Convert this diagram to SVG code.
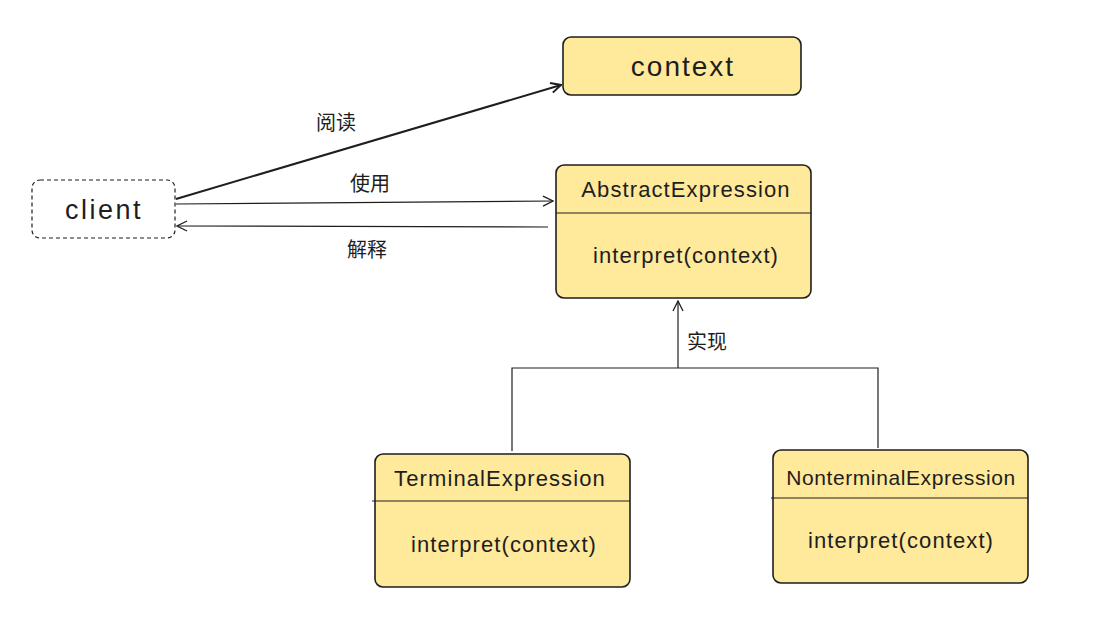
<svg xmlns="http://www.w3.org/2000/svg" width="1095" height="621" viewBox="0 0 1095 621">
<defs>
<style>
.box{fill:#ffe99b;stroke:#1e1e1e;stroke-width:1.6}
.dash{fill:#ffffff;stroke:#1e1e1e;stroke-width:1.2;stroke-dasharray:4 3}
.div{stroke:#1e1e1e;stroke-width:1.2}
.t{font-family:"Liberation Sans",Arial,sans-serif;fill:#1e1e1e;text-anchor:middle}
.m{font-size:22px;letter-spacing:1.1px}
.lbl{font-family:"Liberation Sans","Noto Sans CJK SC",sans-serif;font-size:20px;fill:#1e1e1e;text-anchor:middle}
.c{fill:none;stroke:#1e1e1e;stroke-width:1.2}
.thick{stroke-width:2px}
</style>
<marker id="arr" viewBox="0 0 12 12" refX="11" refY="6" markerWidth="12" markerHeight="12" markerUnits="userSpaceOnUse" orient="auto">
<path d="M1,1 L11,6 L1,11" fill="none" stroke="#1e1e1e" stroke-width="1.3"/>
</marker>
<marker id="arr2" viewBox="0 0 12 12" refX="11" refY="6" markerWidth="12" markerHeight="12" markerUnits="userSpaceOnUse" orient="auto">
<path d="M1,1 L11,6 L1,11" fill="none" stroke="#1e1e1e" stroke-width="2"/>
</marker>
</defs>
<rect width="1095" height="621" fill="#ffffff"/>

<g id="connectors">
<line class="c thick" x1="176" y1="199" x2="561" y2="85" marker-end="url(#arr2)"/>
<line class="c" x1="176" y1="204" x2="553" y2="201" marker-end="url(#arr)"/>
<line class="c" x1="548" y1="227" x2="177" y2="226" marker-end="url(#arr)"/>
<polyline class="c" points="512,451 512,368 878,368 878,448"/>
<line class="c" x1="678" y1="368" x2="678" y2="301" marker-end="url(#arr)"/>
<text class="lbl" x="336" y="130">阅读</text>
<text class="lbl" x="370" y="191">使用</text>
<text class="lbl" x="367" y="257">解释</text>
<text class="lbl" x="707" y="349">实现</text>
</g>

<g id="context">
<rect class="box" x="563" y="37" width="238" height="58" rx="8"/>
<text class="t" x="683" y="76" font-size="28" letter-spacing="2">context</text>
</g>

<g id="client">
<rect class="dash" x="32" y="180" width="143" height="58" rx="8"/>
<text class="t" x="104" y="219" font-size="27" letter-spacing="2.5">client</text>
</g>

<g id="abstract">
<rect class="box" x="556" y="165" width="255" height="133" rx="8"/>
<line class="div" x1="556" y1="213" x2="811" y2="213"/>
<text class="t m" x="686" y="197">AbstractExpression</text>
<text class="t m" x="686" y="263">interpret(context)</text>
</g>

<g id="terminal">
<rect class="box" x="375" y="454" width="255" height="133" rx="8"/>
<line class="div" x1="372" y1="501" x2="630" y2="501"/>
<text class="t m" x="500" y="486">TerminalExpression</text>
<text class="t m" x="504" y="552">interpret(context)</text>
</g>

<g id="nonterminal">
<rect class="box" x="773" y="450" width="255" height="133" rx="8"/>
<line class="div" x1="771" y1="498" x2="1028" y2="498"/>
<text class="t m" x="901" y="485" style="font-size:21px;letter-spacing:0.6px">NonterminalExpression</text>
<text class="t m" x="901" y="548">interpret(context)</text>
</g>
</svg>
